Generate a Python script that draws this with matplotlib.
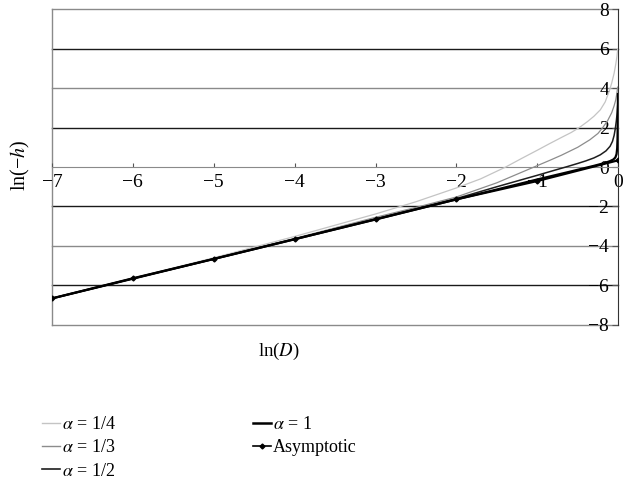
import numpy as np
from matplotlib import pyplot as plt
from matplotlib.lines import Line2D

plt.rcParams["font.family"] = ["Liberation Serif", "DejaVu Serif"]
plt.rcParams["mathtext.fontset"] = "stix"

# values (x = ln(D), y = ln(-h))
x_quarter = [-7, -6, -5, -4, -3, -2.5, -2, -1.7, -1.39, -1.2, -1.0, -0.85, -0.7, -0.58, -0.48,
             -0.38, -0.3, -0.22, -0.16, -0.11, -0.08, -0.05, -0.03, -0.015, -0.005]
y_quarter = [-6.66, -5.63, -4.60, -3.52, -2.38, -1.76, -1.06, -0.6, 0.0, 0.42, 0.85, 1.18, 1.5, 1.75, 2.0,
             2.3, 2.57, 2.9, 3.3, 3.85, 4.25, 4.75, 5.2, 5.6, 6.0]

x_third = [-7, -6, -5, -4, -3, -2.5, -2, -1.5, -1.04, -0.85, -0.7, -0.5, -0.35, -0.25, -0.19,
           -0.13, -0.08, -0.05, -0.03, -0.015, -0.006]
y_third = [-6.66, -5.65, -4.64, -3.62, -2.55, -2.05, -1.52, -0.8, 0.0, 0.33, 0.6, 1.0, 1.38, 1.7, 2.0,
           2.35, 2.75, 3.1, 3.4, 3.75, 4.05]

x_half = [-7, -5, -4, -3, -2.5, -2, -1.5, -1.0, -0.8, -0.63, -0.5, -0.4, -0.3, -0.22, -0.15,
          -0.1, -0.07, -0.05, -0.035, -0.022, -0.012, -0.006]
y_half = [-6.66, -4.66, -3.65, -2.63, -2.12, -1.6, -1.0, -0.42, -0.18, 0.02, 0.18, 0.31, 0.46, 0.62, 0.82,
          1.05, 1.3, 1.6, 1.95, 2.35, 2.75, 3.1]

x_one = [-7, -5, -4, -3, -2, -1.5, -1, -0.6, -0.3, -0.17, -0.1, -0.06, -0.035, -0.02, -0.012,
         -0.008, -0.005, -0.0035, -0.0025]
y_one = [-6.66, -4.66, -3.66, -2.66, -1.64, -1.14, -0.63, -0.24, 0.06, 0.2, 0.3, 0.38, 0.48, 0.65, 0.95,
         1.4, 2.2, 3.0, 3.7]

x_asym = [-7, -6, -5, -4, -3, -2, -1, 0]
y_asym = [-6.66, -5.64, -4.66, -3.66, -2.65, -1.64, -0.71, 0.34]

x_ticks = [-7, -6, -5, -4, -3, -2, -1, 0]
y_ticks = [-8, -6, -4, -2, 0, 2, 4, 6, 8]

fig = plt.figure(figsize=(6.34, 4.82), dpi=100)
ax = fig.add_axes([0.082, 0.326, 0.893, 0.655])
ax.set_xlim(-7, 0)
ax.set_ylim(-8, 8)

# horizontal lines
for yv in y_ticks:
    if yv == 0:
        continue
    if abs(yv) in (4, 8):
        c = "#8a8a8a"
    else:
        c = "#1a1a1a"
    ax.axhline(yv, color=c, lw=1.0, zorder=1, clip_on=False)
ax.axvline(-7, color="#8a8a8a", lw=1.0, zorder=1, clip_on=False)

ax.plot(x_quarter, y_quarter, color="#c4c4c4", lw=0.9, zorder=3)
ax.plot(x_third, y_third, color="#8c8c8c", lw=0.9, zorder=3)
ax.plot(x_half, y_half, color="#1e1e1e", lw=1.1, zorder=3)
ax.plot(x_one, y_one, color="black", lw=1.6, zorder=4)
ax.plot(x_asym, y_asym, color="black", lw=1.6, marker="D", ms=2.5, zorder=5)

# axes through the origin
ax.spines["left"].set_position(("data", 0))
ax.spines["left"].set_color("#333333")
ax.spines["bottom"].set_position(("data", 0))
ax.spines["bottom"].set_color("#8a8a8a")
ax.spines["right"].set_visible(False)
ax.spines["top"].set_visible(False)

ax.set_xticks(x_ticks)
ax.set_yticks(y_ticks)
ax.tick_params(axis="x", direction="in", length=3, pad=5, labelsize=14, color="#555555")
ax.tick_params(axis="y", direction="out", length=4, pad=2.5, labelsize=14, color="#555555")

fig.text(0.032, 0.658, "ln(−$h$)", rotation=90, ha="center", va="center", fontsize=14.5)
fig.text(0.44, 0.27, "ln($D$)", ha="center", va="center", fontsize=13.5)

handles = [
    Line2D([], [], color="#c4c4c4", lw=1.0),
    Line2D([], [], color="#8c8c8c", lw=1.0),
    Line2D([], [], color="#1e1e1e", lw=1.2),
    Line2D([], [], color="black", lw=1.8),
    Line2D([], [], color="black", lw=1.2, marker="D", ms=2.5),
]
labels = ["$\\alpha$ = 1/4", "$\\alpha$ = 1/3", "$\\alpha$ = 1/2", "$\\alpha$ = 1", "Asymptotic"]
fig.legend(handles, labels, ncol=2, loc="upper left", bbox_to_anchor=(0.066, 0.137),
           frameon=False, fontsize=13, handlelength=1.0, handletextpad=0.1,
           columnspacing=7.6, labelspacing=0.35, borderaxespad=0, borderpad=0)

fig.savefig("out.png", dpi=100)
